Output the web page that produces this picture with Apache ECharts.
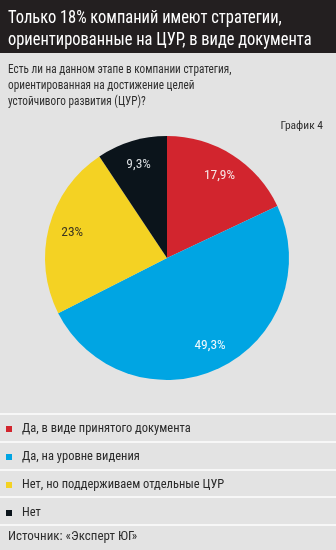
<!DOCTYPE html>
<html>
<head>
<meta charset="utf-8">
<script src="https://cdn.jsdelivr.net/npm/echarts@6/dist/echarts.min.js"></script>
<style>
  html, body { margin: 0; padding: 0; background: #e3e3e3; }
  #chart { width: 336px; height: 550px; }
</style>
</head>
<body>
<div id="chart"></div>
<script>
// Survey answers: does the company have an SDG-oriented strategy?
const categories = [
  'Да, в виде принятого документа',
  'Да, на уровне видения',
  'Нет, но поддерживаем отдельные ЦУР',
  'Нет'
];
const shares = [17.9, 49.3, 23, 9.3];
const sliceColors = ['#d2252e', '#00a5e3', '#f4d223', '#0b141b'];
const labelColors = ['#f6e4e4', '#eef8fd', '#3b3520', '#d9dde0'];

const titleLines = [
  'Только 18% компаний имеют стратегии,',
  'ориентированные на ЦУР, в виде документа'
];
const questionLines = [
  'Есть ли на данном этапе в компании стратегия,',
  'ориентированная на достижение целей',
  'устойчивого развития (ЦУР)?'
];
const chartTag = 'График 4';
const sourceText = 'Источник: «Эксперт ЮГ»';

const FONT = '"Roboto Condensed", "DejaVu Sans Condensed", sans-serif';
const fmt = v => String(v).replace('.', ',') + '%';

const pieData = categories.map((name, i) => ({
  name,
  value: shares[i],
  itemStyle: { color: sliceColors[i] }
}));

// thin white rules between legend rows
const ruleYs = [414, 442, 470, 497, 525];
const rules = ruleYs.map(y => ({
  type: 'rect',
  shape: { x: 0, y: y - 1, width: 336, height: 2 },
  style: { fill: '#f7f7f7' },
  silent: true
}));

const chart = echarts.init(document.getElementById('chart'), null, { renderer: 'canvas' });
chart.setOption({
  backgroundColor: '#e3e3e3',
  animation: false,
  graphic: [
    { type: 'rect', shape: { x: 0, y: 0, width: 336, height: 53 }, style: { fill: '#231f20' }, silent: true },
    {
      type: 'text', x: 8, y: 8, scaleX: 0.94,
      style: { text: titleLines.join('\n'), fill: '#ffffff', font: '17.5px ' + FONT, lineHeight: 22 }
    },
    {
      type: 'text', x: 8, y: 62, scaleX: 0.9,
      style: { text: questionLines.join('\n'), fill: '#2e2e2e', font: '12.5px ' + FONT, lineHeight: 16 }
    },
    {
      type: 'text', right: 13, top: 120,
      style: { text: chartTag, fill: '#2e2e2e', font: '11.5px ' + FONT }
    },
    ...rules,
    {
      type: 'text', left: 8, top: 530,
      style: { text: sourceText, fill: '#2e2e2e', font: '13px ' + FONT }
    }
  ],
  legend: {
    orient: 'vertical',
    left: 6,
    top: 422,
    padding: 0,
    itemGap: 14,
    itemWidth: 6,
    itemHeight: 6,
    icon: 'rect',
    selectedMode: false,
    data: categories,
    textStyle: { color: '#2a2a2a', fontSize: 12.5, fontFamily: FONT, lineHeight: 14, padding: [0, 0, 0, 5] }
  },
  series: [
    {
      type: 'pie',
      center: [167, 258],
      radius: [0, 122],
      startAngle: 90,
      clockwise: true,
      silent: true,
      label: { show: false },
      labelLine: { show: false },
      data: pieData
    },
    {
      // transparent ring that carries the percentage labels
      type: 'pie',
      center: [167, 258],
      radius: [68, 122],
      startAngle: 90,
      clockwise: true,
      silent: true,
      legendHoverLink: false,
      itemStyle: { color: 'rgba(0,0,0,0)', borderWidth: 0 },
      label: {
        show: true,
        position: 'inside',
        fontSize: 13.5,
        fontFamily: FONT,
        formatter: p => fmt(p.value)
      },
      labelLine: { show: false },
      data: categories.map((name, i) => ({
        name: name + ' ',
        value: shares[i],
        label: { color: labelColors[i] }
      }))
    }
  ]
});
</script>
</body>
</html>
